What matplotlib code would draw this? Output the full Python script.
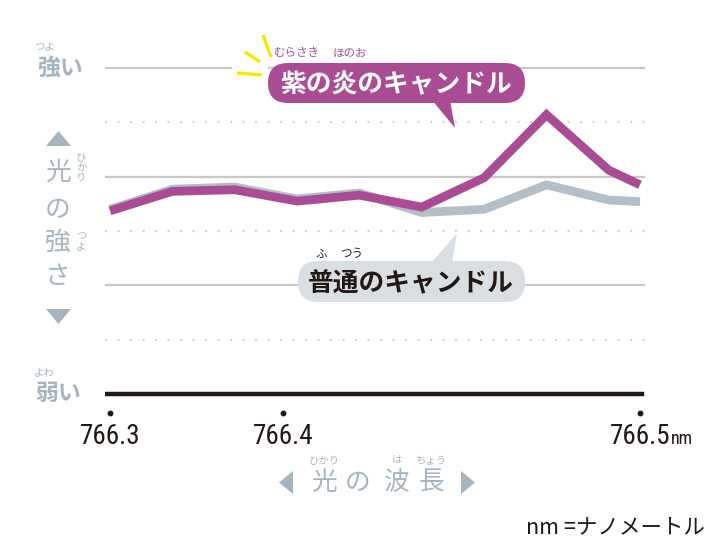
import matplotlib
matplotlib.use("Agg")
import matplotlib.pyplot as plt
from matplotlib.patches import FancyBboxPatch, Polygon
from matplotlib import font_manager

plt.rcParams['font.family'] = ['Noto Sans CJK JP', 'DejaVu Sans']

# ---- data ----
sample_pos = [0, 1, 2, 3, 4, 5, 6, 7, 8, 8.5]
purple_candle = [3.37, 3.73, 3.76, 3.55, 3.66, 3.44, 3.98, 5.14, 4.12, 3.85]
normal_candle = [3.40, 3.77, 3.81, 3.59, 3.70, 3.34, 3.40, 3.85, 3.57, 3.54]
tick_pos = [0, 2.78, 8.5]
tick_labels = ['766.3', '766.4', '766.5']
grid_levels = [1, 2, 3, 4, 5, 6]

W, H = 726, 552
fig = plt.figure(figsize=(W / 100, H / 100), dpi=100)

def narrow_font():
    for name in ['Liberation Sans Narrow', 'Roboto Condensed', 'Liberation Sans']:
        try:
            font_manager.findfont(font_manager.FontProperties(family=name), fallback_to_default=False)
            return name
        except Exception:
            pass
    return 'DejaVu Sans'

NARROW = narrow_font()

PURPLE = '#aa4c94'
GRAYLINE = '#b4bec6'
LABEL = '#a6b4be'
DARK = '#231815'

# main axes
ax = fig.add_axes([105 / W, 1 - 400 / H, 540 / W, 340 / H])
ax.set_xlim(-0.08, 8.58)
ax.set_ylim(-0.11, 6.147)
ax.axis('off')

for lv in grid_levels:
    if lv % 2 == 0:
        ax.axhline(lv, color='#c8c8c8', lw=1.6, zorder=1)
    else:
        ax.axhline(lv, color='#d2d2d2', lw=1.5, linestyle=(0, (1, 5)), zorder=1)
ax.axhline(0, color=DARK, lw=3.2, zorder=2, xmin=0.0, xmax=0.995)

ax.plot(sample_pos, normal_candle, color=GRAYLINE, lw=6.3, solid_joinstyle='miter',
        solid_capstyle='butt', zorder=3)
ax.plot(sample_pos, purple_candle, color=PURPLE, lw=6.3, solid_joinstyle='miter',
        solid_capstyle='butt', zorder=4)

ax.plot(tick_pos, [-0.35] * len(tick_pos), 'o', color=DARK, ms=3.2, clip_on=False)
for p, lab in zip(tick_pos, tick_labels):
    ax.text(p, -0.79, lab, ha='center', va='center', fontsize=19.5, family=NARROW,
            color=DARK, clip_on=False)
ax.text(tick_pos[-1] + 0.50, -0.82, 'nm', ha='left', va='center', fontsize=13,
        family=NARROW, color=DARK, clip_on=False)

# overlay axes in pixel coords for annotations
ov = fig.add_axes([0, 0, 1, 1])
ov.set_xlim(0, W)
ov.set_ylim(H, 0)
ov.axis('off')

# purple callout
ov.add_patch(FancyBboxPatch((232, 60), 36, 16, boxstyle='square,pad=0', fc='white', ec='none', zorder=5))
ov.add_patch(Polygon([(432, 100), (450, 100), (455, 128)], closed=True, fc=PURPLE, ec='none', zorder=6))
ov.add_patch(FancyBboxPatch((268, 63), 257, 40, boxstyle='round,pad=0,rounding_size=20',
                            fc=PURPLE, ec='none', zorder=6))
ov.text(396, 85, '紫の炎のキャンドル', ha='center', va='center', fontsize=18.5,
        weight='bold', color='white', zorder=7)
ov.text(297, 53, 'むらさき', ha='center', va='center', fontsize=8.3, color=PURPLE, zorder=7)
ov.text(350, 53, 'ほのお', ha='center', va='center', fontsize=8.3, color=PURPLE, zorder=7)
for (x0, y0, x1, y1) in [(263, 35, 271, 57), (245, 52, 260, 62), (237, 73, 262, 75)]:
    ov.plot([x0, x1], [y0, y1], color='#fbe800', lw=2.4, solid_capstyle='butt', zorder=7)

# normal callout
ov.add_patch(Polygon([(432, 262), (452, 262), (457, 233)], closed=True, fc='#d9dee2', ec='none', zorder=6))
ov.add_patch(FancyBboxPatch((298, 261), 227, 41, boxstyle='round,pad=0,rounding_size=20',
                            fc='#d9dee2', ec='none', zorder=6))
ov.text(411, 283, '普通のキャンドル', ha='center', va='center', fontsize=18.5,
        weight='bold', color=DARK, zorder=7)
ov.text(321, 254, 'ふ', ha='center', va='center', fontsize=8.3, color=DARK, zorder=7)
ov.text(352, 254, 'つう', ha='center', va='center', fontsize=8.3, color=DARK, zorder=7)

# y labels
ov.text(60, 68, '強い', ha='center', va='center', fontsize=16.5, weight='bold', color=LABEL)
ov.text(45, 46, 'つよ', ha='center', va='center', fontsize=7.5, color=LABEL)
ov.text(58, 393, '弱い', ha='center', va='center', fontsize=16.5, weight='bold', color=LABEL)
ov.text(44, 372, 'よわ', ha='center', va='center', fontsize=7.5, color=LABEL)

ov.add_patch(Polygon([(46, 146), (71, 146), (58.5, 131)], closed=True, fc=LABEL, ec='none'))
ov.add_patch(Polygon([(46, 309), (71, 309), (58.5, 324)], closed=True, fc=LABEL, ec='none'))
for ch, yy in [('光', 173), ('の', 210), ('強', 243), ('さ', 277)]:
    ov.text(58, yy, ch, ha='center', va='center', fontsize=18.5, color=LABEL)
for ch, yy in [('ひ', 158), ('か', 168), ('り', 178)]:
    ov.text(81, yy, ch, ha='center', va='center', fontsize=7.5, color=LABEL)
for ch, yy in [('つ', 236), ('よ', 246)]:
    ov.text(81, yy, ch, ha='center', va='center', fontsize=7.5, color=LABEL)

# x label
ov.add_patch(Polygon([(293, 471), (293, 494), (279, 482.5)], closed=True, fc=LABEL, ec='none'))
ov.add_patch(Polygon([(461, 471), (461, 494), (475, 482.5)], closed=True, fc=LABEL, ec='none'))
for ch, xx in [('光', 324), ('の', 358), ('波', 397), ('長', 431)]:
    ov.text(xx, 483, ch, ha='center', va='center', fontsize=18.5, color=LABEL)
ov.text(324, 461, 'ひかり', ha='center', va='center', fontsize=7.5, color=LABEL)
ov.text(397, 461, 'は', ha='center', va='center', fontsize=7.5, color=LABEL)
ov.text(431, 461, 'ちょう', ha='center', va='center', fontsize=7.5, color=LABEL)

ov.text(705, 527, 'nm =ナノメートル', ha='right', va='center', fontsize=15.5, color=DARK)

fig.savefig('out.png', dpi=100)
